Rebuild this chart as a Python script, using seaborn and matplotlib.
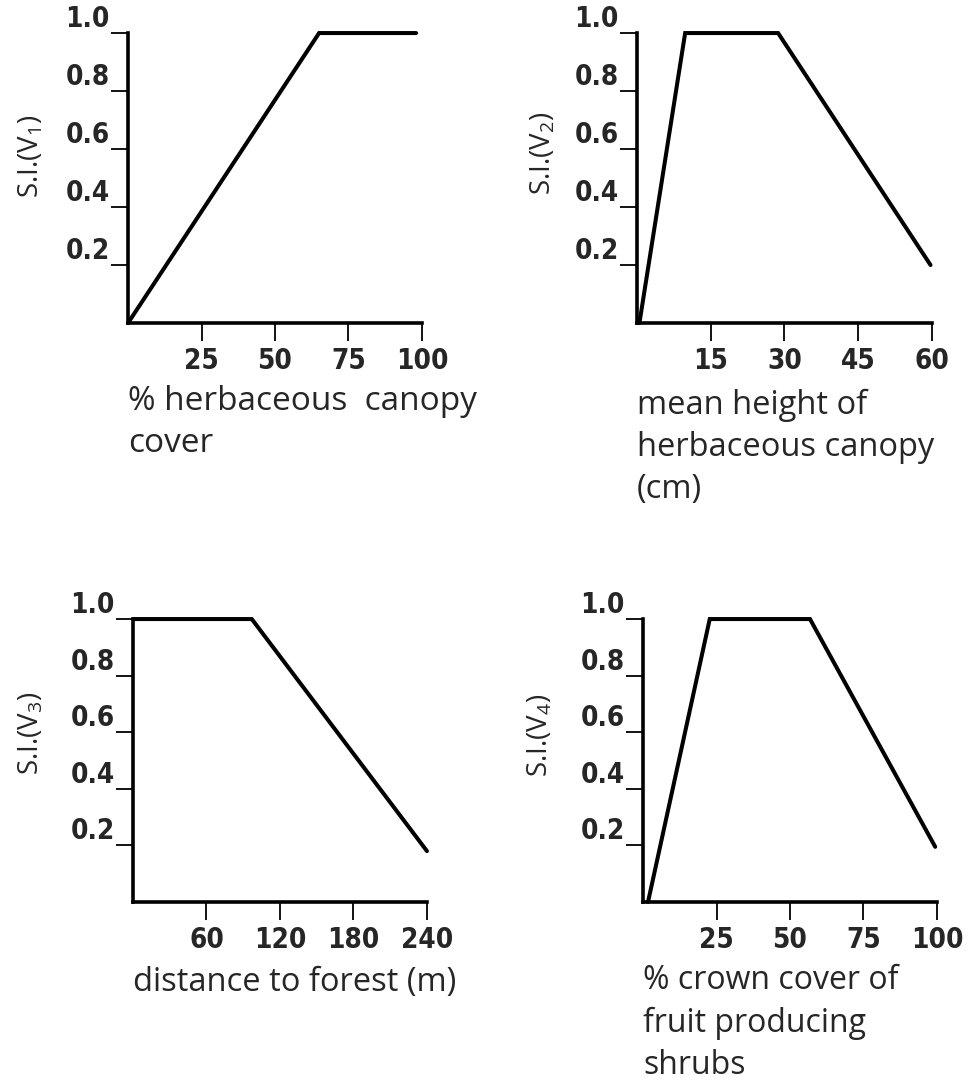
import numpy as np
import pandas as pd
import matplotlib
matplotlib.use('Agg')
import matplotlib.pyplot as plt
from matplotlib import font_manager
import seaborn as sns

# values
v1_x = [0, 65, 98]
v1_y = [0.0, 1.0, 1.0]
v2_x = [0.5, 9.8, 28.7, 59.7]
v2_y = [0.0, 1.0, 1.0, 0.2]
v3_x = [0, 97, 240]
v3_y = [1.0, 1.0, 0.18]
v4_x = [1.7, 22.7, 56.8, 99.4]
v4_y = [0.0, 1.0, 1.0, 0.195]

ticks_v1 = [25, 50, 75, 100]
ticks_v2 = [15, 30, 45, 60]
ticks_v3 = [60, 120, 180, 240]
ticks_v4 = [25, 50, 75, 100]
y_ticks = [0.2, 0.4, 0.6, 0.8, 1.0]

labels_x = ['% herbaceous  canopy\ncover',
            'mean height of\nherbaceous canopy\n(cm)',
            'distance to forest (m)',
            '% crown cover of\nfruit producing\nshrubs']
labels_y = ['S.I.(V$_1$)', 'S.I.(V$_2$)', 'S.I.(V$_3$)', 'S.I.(V$_4$)']

sns.set_style('ticks')
plt.rcParams['font.family'] = ['Open Sans', 'DejaVu Sans']
plt.rcParams['mathtext.default'] = 'regular'

names = {f.name for f in font_manager.fontManager.ttflist}
if 'Liberation Sans Narrow' in names:
    tick_font = dict(family='Liberation Sans Narrow', weight='bold')
else:
    tick_font = dict(family='DejaVu Sans', weight='bold', stretch='condensed')

fig = plt.figure(figsize=(9.75, 10.8), dpi=100)

panels = [
    (v1_x, v1_y, ticks_v1, (0, 100), [0.1313, 0.7009, 0.3015, 0.2685], (-0.28, 0.575), -0.215, 24),
    (v2_x, v2_y, ticks_v2, (0, 60), [0.6533, 0.7009, 0.3026, 0.2685], (-0.27, 0.586), -0.225, 23.5),
    (v3_x, v3_y, ticks_v3, (0, 240), [0.1364, 0.1648, 0.3015, 0.262], (-0.296, 0.597), -0.225, 23.5),
    (v4_x, v4_y, ticks_v4, (0, 100), [0.6595, 0.1648, 0.3015, 0.262], (-0.30, 0.59), -0.22, 23),
]

for i, (xs, ys, xt, xlim, rect, ylab_pos, xlab_y, xlab_size) in enumerate(panels):
    ax = fig.add_axes(rect)
    df = pd.DataFrame({'x': xs, 'y': ys})
    sns.lineplot(data=df, x='x', y='y', ax=ax, color='black', linewidth=2.9,
                 estimator=None, sort=False, clip_on=False, solid_joinstyle='miter')
    ax.set_xlim(*xlim)
    ax.set_ylim(0, 1.0)
    ax.set_xticks(xt)
    ax.set_yticks(y_ticks)
    ax.set_yticklabels(['0.2', '0.4', '0.6', '0.8', '1.0'])
    sns.despine(ax=ax)
    for s in ['left', 'bottom']:
        ax.spines[s].set_linewidth(2.6)
        ax.spines[s].set_color('black')
    ax.tick_params(axis='x', length=13, width=1.3, color='black', pad=4, direction='out')
    ax.tick_params(axis='y', length=12, width=1.3, color='black', pad=1, direction='out')
    for lab in ax.get_xticklabels() + ax.get_yticklabels():
        lab.set_fontsize(20)
        lab.set_fontfamily(tick_font['family'])
        lab.set_fontweight('bold')
        if 'stretch' in tick_font:
            lab.set_fontstretch(tick_font['stretch'])
    for lab in ax.get_yticklabels():
        lab.set_verticalalignment('bottom')
    ax.set_ylabel(labels_y[i], fontsize=20)
    ax.yaxis.set_label_coords(*ylab_pos)
    ax.set_xlabel(labels_x[i], fontsize=xlab_size, loc='left', linespacing=1.36)
    ax.xaxis.set_label_coords(0, xlab_y)

fig.savefig('out.png', dpi=100, facecolor='white')
